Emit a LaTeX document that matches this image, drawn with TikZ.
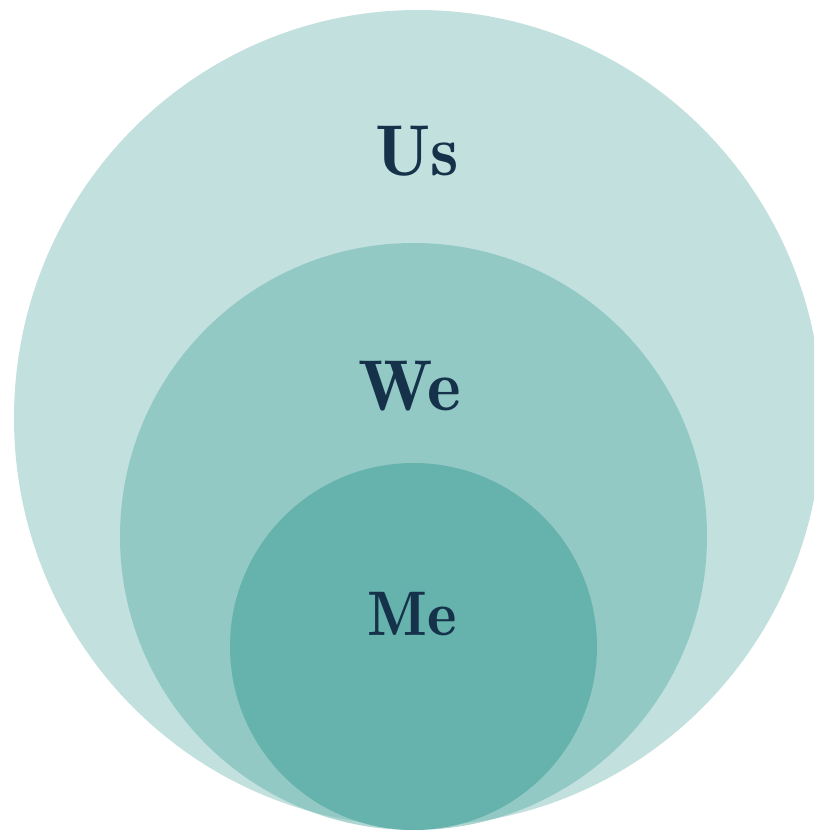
\documentclass[tikz,border=0pt]{standalone}
\usepackage{fontspec}
\newfontfamily\lbldemi{lmromandemi10-regular.otf}
\definecolor{outerc}{RGB}{194,224,222}
\definecolor{midc}{RGB}{117,186,180}
\definecolor{innerc}{RGB}{102,178,173}
\definecolor{labelc}{RGB}{22,50,74}
\tikzset{
  lbl/.style={anchor=base, text=labelc, inner sep=0pt, font=\lbldemi\fontsize{72}{80}\selectfont},
  lblsmall/.style={lbl, font=\lbldemi\fontsize{63}{70}\selectfont}
}
\begin{document}
\begin{tikzpicture}[x=1pt,y=-1pt]
\useasboundingbox (0,0) rectangle (814,830);
\clip (0,0) rectangle (814,830);
\fill[outerc] (418,418) ellipse [x radius=404pt, y radius=408pt];
\fill[midc, fill opacity=0.6] (413.5,536.5) circle [radius=293.5pt];
\fill[innerc] (413.5,646.5) circle [radius=183.5pt];
\node[lbl] (us) at (417,175) {Us};
\node[lbl] (we) at (410,410) {We};
\node[lblsmall] (me) at (412.5,635) {Me};
\end{tikzpicture}
\end{document}
